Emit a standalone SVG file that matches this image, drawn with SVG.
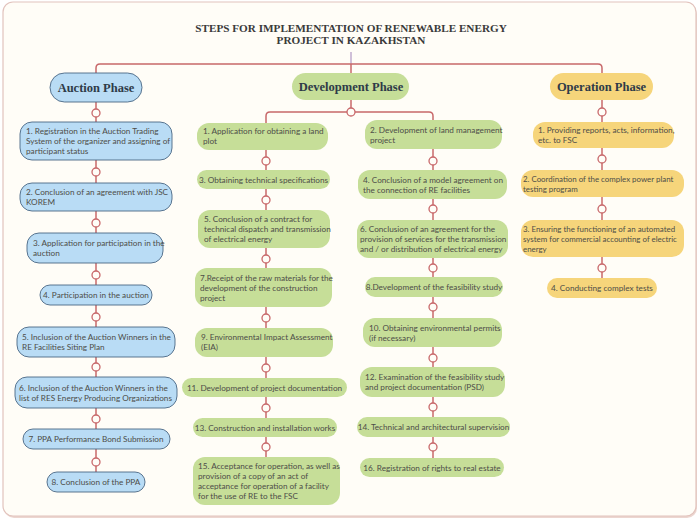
<svg xmlns="http://www.w3.org/2000/svg" width="700" height="522" viewBox="0 0 700 522">
<defs>
<style>
.frame{fill:#fffdf7;stroke:#e2c3bd;stroke-width:1.2}
.title{font-family:"Liberation Serif","DejaVu Serif",serif;font-weight:bold;font-size:11.2px;fill:#3a3a3a;text-anchor:middle}
.phase{font-family:"Liberation Serif","DejaVu Serif",serif;font-weight:bold;font-size:12.5px;fill:#2e3b48;text-anchor:middle}
.t{font-family:Lato,"Liberation Sans",sans-serif;font-size:8.2px;fill:#4d4d48}
.s{font-size:7.9px}
.c{text-anchor:middle}
.blue{fill:#b9dcf5;stroke:#4a6683;stroke-width:0.9}
.green{fill:#c6de98}
.yellow{fill:#f6d57b}
.ln{fill:none;stroke:#c8686a;stroke-width:1.5}
.dot{fill:#fffdf7;stroke:#c8686a;stroke-width:1.3}
</style>
</defs>
<rect x="4" y="4" width="693" height="514" rx="10" fill="#ecd6d0"/>
<rect class="frame" x="3" y="2" width="693" height="514" rx="10"/>

<g id="title">
<text class="title" x="351" y="32">STEPS FOR IMPLEMENTATION OF RENEWABLE ENERGY</text>
<text class="title" x="351" y="44">PROJECT IN KAZAKHSTAN</text>
</g>

<g id="connectors">
<line x1="351" y1="52" x2="351" y2="64" stroke="#b7a0c8" stroke-width="1.3"/>
<path class="ln" d="M96,74 V68 Q96,64 100,64 H598 Q602,64 602,68 V74"/>
<line class="ln" x1="351" y1="64" x2="351" y2="73"/>
<line class="ln" x1="96" y1="102" x2="96" y2="472"/>
<line class="ln" x1="351" y1="100" x2="351" y2="112"/>
<path class="ln" d="M266,123 V116 Q266,112 270,112 H429 Q433,112 433,116 V120"/>
<line class="ln" x1="266" y1="150" x2="266" y2="457"/>
<line class="ln" x1="433" y1="149" x2="433" y2="458"/>
<line class="ln" x1="602" y1="100" x2="602" y2="278"/>
<circle class="dot" cx="96" cy="113" r="4"/>
<circle class="dot" cx="96" cy="172" r="4"/>
<circle class="dot" cx="96" cy="223" r="4"/>
<circle class="dot" cx="96" cy="275" r="4"/>
<circle class="dot" cx="96" cy="317" r="4"/>
<circle class="dot" cx="96" cy="367" r="4"/>
<circle class="dot" cx="96" cy="419" r="4"/>
<circle class="dot" cx="96" cy="462" r="4"/>
<circle class="dot" cx="351" cy="112" r="4"/>
<circle class="dot" cx="266" cy="161" r="4"/>
<circle class="dot" cx="266" cy="200" r="4"/>
<circle class="dot" cx="266" cy="259" r="4"/>
<circle class="dot" cx="266" cy="318" r="4"/>
<circle class="dot" cx="266" cy="368" r="4"/>
<circle class="dot" cx="266" cy="408" r="4"/>
<circle class="dot" cx="266" cy="447" r="4"/>
<circle class="dot" cx="433" cy="161" r="4"/>
<circle class="dot" cx="433" cy="209" r="4"/>
<circle class="dot" cx="433" cy="268" r="4"/>
<circle class="dot" cx="433" cy="307" r="4"/>
<circle class="dot" cx="433" cy="358" r="4"/>
<circle class="dot" cx="433" cy="407" r="4"/>
<circle class="dot" cx="433" cy="447" r="4"/>
<circle class="dot" cx="602" cy="112" r="4"/>
<circle class="dot" cx="602" cy="159" r="4"/>
<circle class="dot" cx="602" cy="209" r="4"/>
<circle class="dot" cx="602" cy="268" r="4"/>
</g>

<g id="auction-phase"><rect class="blue" x="50" y="73" width="92" height="29" rx="14.5"/><text class="phase" x="96" y="92">Auction Phase</text></g>
<g id="a1"><rect class="blue" x="20" y="122" width="152" height="38" rx="12"/><text class="t" x="26" y="134">1. Registration in the Auction Trading</text><text class="t" x="26" y="144">System of the organizer and assigning of</text><text class="t" x="26" y="154">participant status</text></g>
<g id="a2"><rect class="blue" x="20" y="183" width="152" height="28" rx="12"/><text class="t" x="26" y="195">2. Conclusion of an agreement with JSC</text><text class="t" x="26" y="205">KOREM</text></g>
<g id="a3"><rect class="blue" x="27" y="233" width="136" height="30" rx="12"/><text class="t" x="33" y="246">3. Application for participation in the</text><text class="t" x="33" y="256">auction</text></g>
<g id="a4"><rect class="blue" x="40" y="285" width="112" height="20" rx="10"/><text class="t c" x="96" y="298">4. Participation in the auction</text></g>
<g id="a5"><rect class="blue" x="17" y="327" width="158" height="30" rx="12"/><text class="t" x="22" y="340">5. Inclusion of the Auction Winners in the</text><text class="t" x="22" y="350">RE Facilities Siting Plan</text></g>
<g id="a6"><rect class="blue" x="15" y="377" width="162" height="31" rx="12"/><text class="t" x="19" y="390.5">6. Inclusion of the Auction Winners in the</text><text class="t" x="19" y="400.5">list of RES Energy Producing Organizations</text></g>
<g id="a7"><rect class="blue" x="23" y="429" width="147" height="20" rx="10"/><text class="t c" x="96" y="442">7. PPA Performance Bond Submission</text></g>
<g id="a8"><rect class="blue" x="47" y="472" width="98" height="20" rx="10"/><text class="t c" x="96" y="485">8. Conclusion of the PPA</text></g>

<g id="dev-phase"><rect class="green" x="292" y="73" width="117" height="27" rx="13.5"/><text class="phase" x="351" y="91">Development Phase</text></g>
<g id="d1"><rect class="green" x="197" y="123" width="131" height="27" rx="12"/><text class="t" x="203" y="134">1. Application for obtaining a land</text><text class="t" x="203" y="144">plot</text></g>
<g id="d3"><rect class="green" x="197" y="170" width="133" height="19" rx="9.5"/><text class="t c" x="263.5" y="182.5">3. Obtaining technical specifications</text></g>
<g id="d5"><rect class="green" x="198" y="210" width="132" height="38" rx="12"/><text class="t" x="204" y="222">5. Conclusion of a contract for</text><text class="t" x="204" y="232">technical dispatch and transmission</text><text class="t" x="204" y="242">of electrical energy</text></g>
<g id="d7"><rect class="green" x="195" y="268" width="137" height="39" rx="12"/><text class="t" x="200" y="280.5">7.Receipt of the raw materials for the</text><text class="t" x="200" y="290.5">development of the construction</text><text class="t" x="200" y="300.5">project</text></g>
<g id="d9"><rect class="green" x="195" y="328" width="138" height="29" rx="12"/><text class="t" x="201" y="340">9. Environmental Impact Assessment</text><text class="t" x="201" y="350">(EIA)</text></g>
<g id="d11"><rect class="green" x="182" y="378" width="165" height="19" rx="9.5"/><text class="t c" x="264.5" y="390.5">11. Development of project documentation</text></g>
<g id="d13"><rect class="green" x="193" y="418" width="144" height="19" rx="9.5"/><text class="t c" x="265" y="430.5">13. Construction and installation works</text></g>
<g id="d15"><rect class="green" x="193" y="457" width="147" height="48" rx="12"/><text class="t" x="198" y="468.5">15. Acceptance for operation, as well as</text><text class="t" x="198" y="478.5">provision of a copy of an act of</text><text class="t" x="198" y="488.5">acceptance for operation of a facility</text><text class="t" x="198" y="498.5">for the use of RE to the FSC</text></g>

<g id="d2"><rect class="green" x="365" y="120" width="137" height="29" rx="12"/><text class="t" x="370" y="132.5">2. Development of land management</text><text class="t" x="370" y="142.5">project</text></g>
<g id="d4"><rect class="green" x="358" y="170" width="149" height="29" rx="12"/><text class="t" x="363" y="182.5">4. Conclusion of a model agreement on</text><text class="t" x="363" y="192.5">the connection of RE facilities</text></g>
<g id="d6"><rect class="green" x="357" y="220" width="151" height="38" rx="12"/><text class="t" x="360" y="232">6. Conclusion of an agreement for the</text><text class="t" x="360" y="242">provision of services for the transmission</text><text class="t" x="360" y="252">and / or distribution of electrical energy</text></g>
<g id="d8"><rect class="green" x="365" y="277" width="138" height="20" rx="10"/><text class="t c" x="434" y="290">8.Development of the feasibility study</text></g>
<g id="d10"><rect class="green" x="363" y="318" width="139" height="29" rx="12"/><text class="t" x="369" y="330.5">10. Obtaining environmental permits</text><text class="t" x="369" y="340.5">(if necessary)</text></g>
<g id="d12"><rect class="green" x="360" y="367" width="145" height="30" rx="12"/><text class="t" x="365" y="380">12. Examination of the feasibility study</text><text class="t" x="365" y="390">and project documentation (PSD)</text></g>
<g id="d14"><rect class="green" x="357" y="417" width="153" height="20" rx="10"/><text class="t c" x="433.5" y="430">14. Technical and architectural supervision</text></g>
<g id="d16"><rect class="green" x="360" y="458" width="144" height="19" rx="9.5"/><text class="t c" x="432" y="470.5">16. Registration of rights to real estate</text></g>

<g id="op-phase"><rect class="yellow" x="550" y="73" width="103" height="27" rx="13.5"/><text class="phase" x="601.5" y="91">Operation Phase</text></g>
<g id="o1"><rect class="yellow" x="533" y="122" width="141" height="26" rx="12"/><text class="t" x="538" y="133">1. Providing reports, acts, information,</text><text class="t" x="538" y="143">etc. to FSC</text></g>
<g id="o2"><rect class="yellow" x="521" y="170" width="163" height="27" rx="12"/><text class="t s" x="523" y="181.5">2. Coordination of the complex power plant</text><text class="t s" x="523" y="191.5">testing program</text></g>
<g id="o3"><rect class="yellow" x="521" y="220" width="163" height="37" rx="12"/><text class="t s" x="523" y="231.5">3. Ensuring the functioning of an automated</text><text class="t s" x="523" y="241.5">system for commercial accounting of electric</text><text class="t s" x="523" y="251.5">energy</text></g>
<g id="o4"><rect class="yellow" x="547" y="278" width="110" height="20" rx="10"/><text class="t c" x="602" y="291">4. Conducting complex tests</text></g>
</svg>
